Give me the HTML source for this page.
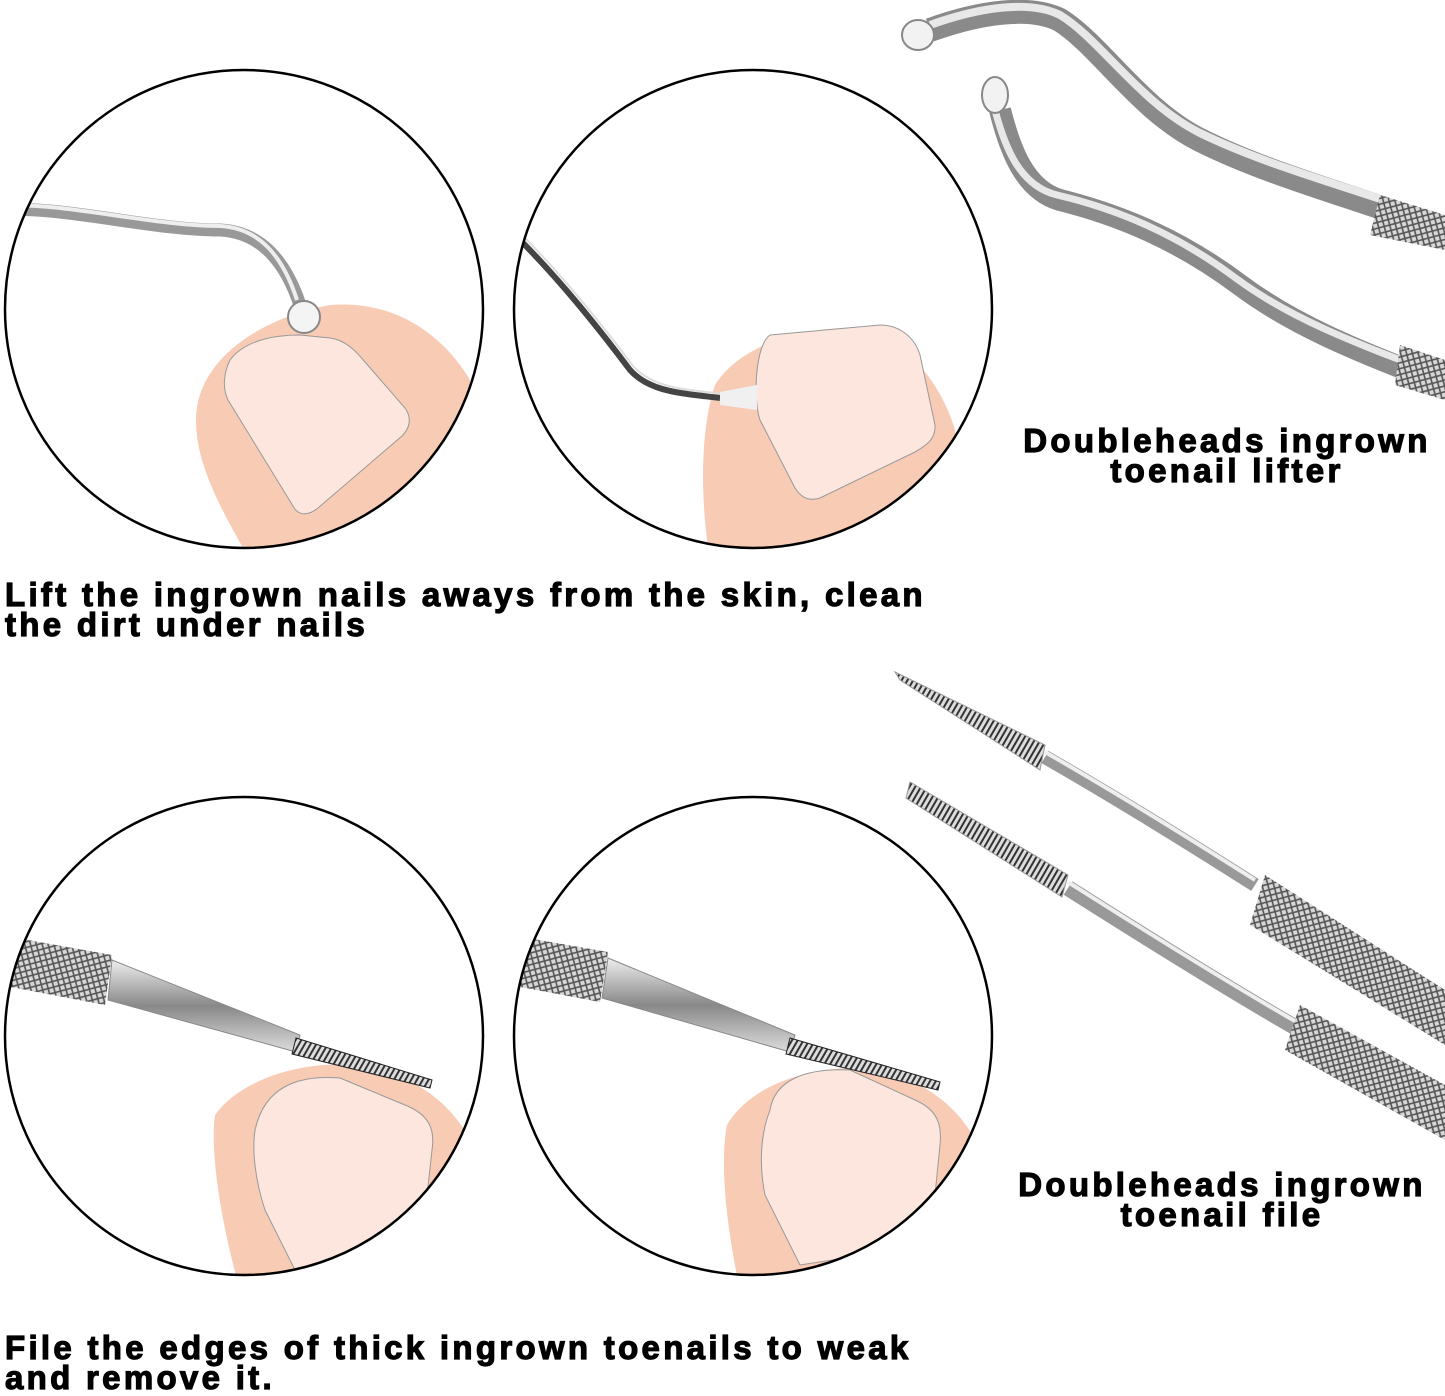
<!DOCTYPE html>
<html><head><meta charset="utf-8"><style>
html,body{margin:0;padding:0;background:#fff;}
body{width:1445px;height:1391px;position:relative;overflow:hidden;font-family:"Liberation Sans",Arial,sans-serif;}
.t{position:absolute;font-weight:bold;font-size:33px;line-height:30px;color:#000;letter-spacing:3.3px;white-space:nowrap;-webkit-text-stroke:1.2px #000;}
.c{text-align:center;}
</style></head><body>
<svg width="1445" height="1391" style="position:absolute;left:0;top:0">
<defs>
<pattern id="kn" width="8" height="8" patternUnits="userSpaceOnUse" patternTransform="rotate(30)">
<rect width="8" height="8" fill="#d8d8d8"/>
<path d="M0 0L8 8M8 0L0 8" stroke="#555" stroke-width="1.6"/>
</pattern>
<pattern id="sr" width="5" height="5" patternUnits="userSpaceOnUse" patternTransform="rotate(30)">
<rect width="5" height="5" fill="#ddd"/><rect width="2" height="5" fill="#333"/>
</pattern>
<linearGradient id="met" x1="0" y1="0" x2="0" y2="1">
<stop offset="0" stop-color="#eee"/><stop offset="0.5" stop-color="#888"/><stop offset="1" stop-color="#ddd"/>
</linearGradient>
<clipPath id="c1"><circle cx="244" cy="309" r="239"/></clipPath>
<clipPath id="c2"><circle cx="753" cy="309" r="239"/></clipPath>
<clipPath id="c3"><circle cx="244" cy="1036" r="239"/></clipPath>
<clipPath id="c4"><circle cx="753" cy="1036" r="239"/></clipPath>
</defs>

<!-- circle 1 -->
<g clip-path="url(#c1)">
<path d="M196 420 C196 360 260 318 330 305 C390 300 440 330 470 380 L470 560 L250 560 C215 500 196 460 196 420Z" fill="#f8cbb5"/>
<path d="M230 360 C245 340 275 335 300 335 L330 338 C345 340 355 350 365 362 L405 408 C412 418 410 428 402 436 L318 508 C308 516 298 516 293 506 L228 400 C222 388 224 372 230 360Z" fill="#fce6dd" stroke="#999" stroke-width="1"/>
<path d="M0 210 C60 205 150 230 220 230 C260 232 285 260 300 305" fill="none" stroke="#999" stroke-width="13"/>
<path d="M0 206 C60 201 150 226 220 226 C258 228 282 254 297 300" fill="none" stroke="#eee" stroke-width="4"/>
<circle cx="304" cy="317" r="16" fill="#f4f4f4" stroke="#888" stroke-width="2"/>
</g>
<circle cx="244" cy="309" r="239" fill="none" stroke="#000" stroke-width="2.5"/>

<!-- circle 2 -->
<g clip-path="url(#c2)">
<path d="M715 385 C740 345 800 328 850 328 C900 330 940 380 955 430 L960 560 L710 560 C700 500 700 430 715 385Z" fill="#f8cbb5"/>
<path d="M770 335 L880 325 C900 325 915 338 920 355 L935 425 C936 440 925 446 915 452 L820 498 C808 502 800 496 795 488 L760 420 C753 400 755 345 770 335Z" fill="#fce6dd" stroke="#999" stroke-width="1"/>
<path d="M520 240 C560 280 600 330 630 370 C650 392 680 393 720 398" fill="none" stroke="#444" stroke-width="6"/>
<path d="M523 236 C563 276 603 326 633 366 C653 388 683 389 723 394" fill="none" stroke="#ddd" stroke-width="2"/>
<path d="M720 392 L757 385 L757 410 L720 405Z" fill="#f0f0f0"/>
</g>
<circle cx="753" cy="309" r="239" fill="none" stroke="#000" stroke-width="2.5"/>

<!-- lifter tools top right -->
<path d="M930 30 C980 12 1030 5 1060 20 C1100 45 1140 110 1200 140 C1270 175 1350 195 1445 230" fill="none" stroke="#8a8a8a" stroke-width="24"/>
<path d="M930 25 C980 7 1030 0 1060 15 C1100 39 1140 103 1200 133 C1270 167 1350 187 1445 221" fill="none" stroke="#e8e8e8" stroke-width="8"/>
<ellipse cx="918" cy="35" rx="16" ry="15" fill="#f2f2f2" stroke="#888" stroke-width="2"/>
<path d="M1000 110 C1010 150 1025 190 1060 200 C1120 215 1180 240 1240 285 C1300 330 1370 355 1445 385" fill="none" stroke="#8a8a8a" stroke-width="22"/>
<path d="M995 110 C1005 148 1020 186 1057 195 C1117 209 1177 234 1237 279 C1297 323 1367 347 1445 377" fill="none" stroke="#e8e8e8" stroke-width="7"/>
<ellipse cx="995" cy="95" rx="13" ry="18" fill="#f2f2f2" stroke="#888" stroke-width="2"/>
<g fill="url(#kn)"><polygon points="1380,195 1445,215 1445,250 1370,235"/><polygon points="1400,345 1445,360 1445,400 1395,385"/></g>

<!-- circle 3 -->
<g clip-path="url(#c3)">
<path d="M215 1115 C240 1080 300 1060 360 1065 C420 1075 455 1110 470 1140 L470 1290 L240 1290 C220 1220 210 1150 215 1115Z" fill="#f8cbb5"/>
<path d="M255 1130 C265 1085 300 1075 340 1078 L405 1105 C430 1115 435 1130 432 1150 L420 1260 L300 1280 L265 1210 C255 1180 252 1150 255 1130Z" fill="#fce6dd" stroke="#999" stroke-width="1"/>
<polygon points="0,935 112,955 105,1005 0,985" fill="url(#kn)"/>
<polygon points="112,960 300,1035 296,1052 108,1000" fill="url(#met)" stroke="#888" stroke-width="1"/>
<polygon points="296,1038 432,1080 430,1088 292,1054" fill="url(#sr)" stroke="#222" stroke-width="1"/>
</g>
<circle cx="244" cy="1036" r="239" fill="none" stroke="#000" stroke-width="2.5"/>

<!-- circle 4 -->
<g clip-path="url(#c4)">
<path d="M727 1125 C750 1085 810 1065 870 1068 C925 1078 960 1110 975 1140 L975 1290 L740 1290 C725 1220 720 1160 727 1125Z" fill="#f8cbb5"/>
<path d="M770 1110 C775 1080 805 1068 850 1070 L915 1100 C938 1110 942 1125 940 1145 L930 1245 L800 1265 L765 1195 C758 1160 762 1130 770 1110Z" fill="#fce6dd" stroke="#999" stroke-width="1"/>
<polygon points="510,935 608,952 600,1002 510,985" fill="url(#kn)"/>
<polygon points="608,958 795,1035 790,1052 602,998" fill="url(#met)" stroke="#888" stroke-width="1"/>
<polygon points="790,1038 940,1082 938,1090 786,1054" fill="url(#sr)" stroke="#222" stroke-width="1"/>
</g>
<circle cx="753" cy="1036" r="239" fill="none" stroke="#000" stroke-width="2.5"/>

<!-- file tools bottom right -->
<polygon points="895,672 1045,745 1040,770 900,680" fill="url(#sr)" stroke="#999" stroke-width="1"/>
<path d="M1045 757 C1120 800 1200 850 1255 885" fill="none" stroke="#999" stroke-width="14"/>
<path d="M1045 752 C1120 795 1200 845 1255 880" fill="none" stroke="#eee" stroke-width="4"/>
<polygon points="1265,875 1445,990 1445,1045 1250,925" fill="url(#kn)"/>
<polygon points="910,782 1068,875 1062,897 906,798" fill="url(#sr)" stroke="#999" stroke-width="1"/>
<path d="M1068 888 C1150 940 1230 990 1300 1030" fill="none" stroke="#999" stroke-width="16"/>
<path d="M1068 882 C1150 934 1230 984 1300 1024" fill="none" stroke="#eee" stroke-width="4"/>
<polygon points="1300,1005 1445,1085 1445,1140 1285,1050" fill="url(#kn)"/>
</svg>

<div class="t c" style="left:1000px;top:426px;width:454px;">Doubleheads ingrown<br>toenail lifter</div>
<div class="t" style="left:5px;top:580px;">Lift the ingrown nails aways from the skin, clean<br>the dirt under nails</div>
<div class="t c" style="left:995px;top:1170px;width:454px;">Doubleheads ingrown<br>toenail file</div>
<div class="t" style="left:5px;top:1333px;">File the edges of thick ingrown toenails to weak<br>and remove it.</div>
</body></html>
